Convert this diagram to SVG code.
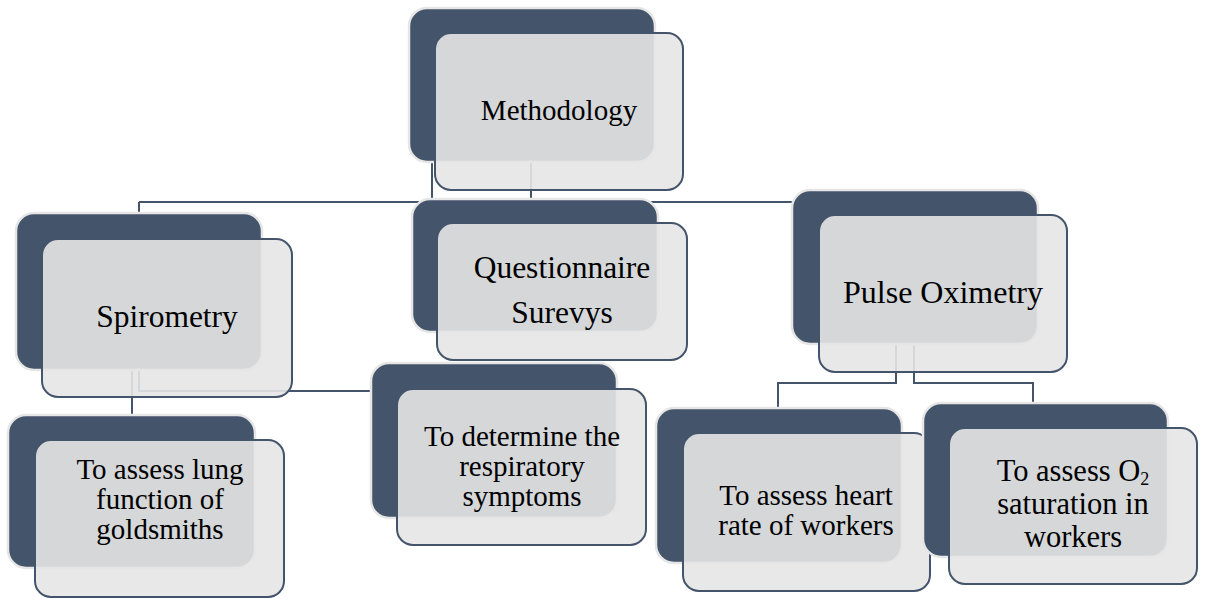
<svg xmlns="http://www.w3.org/2000/svg" width="1209" height="599" viewBox="0 0 1209 599">
<style>
.dk{fill:#44546A;stroke:#e6e6e6;stroke-width:2.5}
.lt{fill:#e6e6e6;fill-opacity:0.9;stroke:#44546A;stroke-width:2}
.cn{fill:none;stroke:#44546A;stroke-width:2}
.t{font-family:'Liberation Serif','DejaVu Serif','Times New Roman',serif;fill:#000;text-anchor:middle}
</style>
<rect width="1209" height="599" fill="#fff"/>
<g id="connectors">
<path class="cn" d="M432,160 V202 M531,160 V202 M139,202 H792 M139,202 V391 H372"/>
<path class="cn" d="M132,368 V416"/>
<path class="cn" d="M896,345 V383 H778 V410 M914,345 V383 H1033 V405"/>
</g>
<g id="methodology">
<rect class="dk" x="409" y="8" width="246" height="154" rx="18"/>
<rect class="lt" x="435" y="33" width="248" height="157" rx="16"/>
<text class="t" x="559" y="120" font-size="29">Methodology</text>
</g>
<g id="spirometry">
<rect class="dk" x="16" y="213" width="246" height="157" rx="18"/>
<rect class="lt" x="42" y="239" width="250" height="158" rx="16"/>
<text class="t" x="167" y="327" font-size="31.5">Spirometry</text>
</g>
<g id="questionnaire">
<rect class="dk" x="412" y="199" width="246" height="133" rx="18"/>
<rect class="lt" x="437" y="223" width="250" height="137" rx="16"/>
<text class="t" x="562" y="278" font-size="31.5">Questionnaire</text>
<text class="t" x="562" y="323" font-size="31.5">Surevys</text>
</g>
<g id="pulse">
<rect class="dk" x="792" y="190" width="246" height="154" rx="18"/>
<rect class="lt" x="819" y="215" width="248" height="157" rx="16"/>
<text class="t" x="943" y="303" font-size="32">Pulse Oximetry</text>
</g>
<g id="determine">
<rect class="dk" x="371" y="363" width="246" height="155" rx="18"/>
<rect class="lt" x="397" y="389" width="249" height="156" rx="16"/>
<text class="t" x="522" y="446" font-size="29">To determine the</text>
<text class="t" x="522" y="476" font-size="29">respiratory</text>
<text class="t" x="522" y="506" font-size="29">symptoms</text>
</g>
<g id="lung">
<rect class="dk" x="8" y="415" width="247" height="153" rx="18"/>
<rect class="lt" x="35" y="440" width="249" height="157" rx="16"/>
<text class="t" x="160" y="479" font-size="29">To assess lung</text>
<text class="t" x="160" y="509" font-size="29">function of</text>
<text class="t" x="160" y="539" font-size="29">goldsmiths</text>
</g>
<g id="heart">
<rect class="dk" x="656" y="408" width="246" height="155" rx="18"/>
<rect class="lt" x="683" y="433" width="247" height="158" rx="16"/>
<text class="t" x="806" y="505" font-size="29">To assess heart</text>
<text class="t" x="806" y="535" font-size="29">rate of workers</text>
</g>
<g id="oxygen">
<rect class="dk" x="923" y="403" width="245" height="154" rx="18"/>
<rect class="lt" x="949" y="428" width="248" height="156" rx="16"/>
<text class="t" x="1073" y="481" font-size="30.5">To assess O<tspan font-size="18" dy="4">2</tspan></text>
<text class="t" x="1073" y="514" font-size="30.5">saturation in</text>
<text class="t" x="1073" y="547" font-size="30.5">workers</text>
</g>
</svg>
